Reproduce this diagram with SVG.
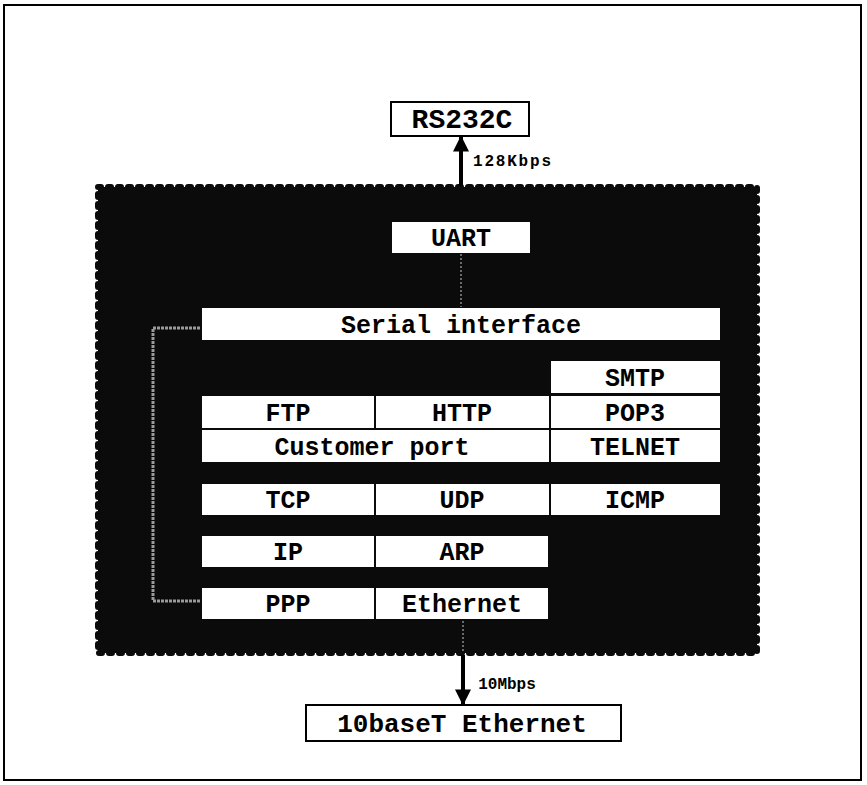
<svg xmlns="http://www.w3.org/2000/svg" width="867" height="785" viewBox="0 0 867 785">
<style>
text{font-family:"Liberation Mono","Courier New",monospace;font-weight:bold;fill:#000;text-anchor:middle}
.lbl{font-size:25px}
.big{font-size:26px}
.sm{font-size:16px}
.cell{fill:#fff;stroke:none}
.ext{fill:#fff;stroke:#000;stroke-width:2}
</style>
<defs>
<marker id="ah" viewBox="0 0 10 10" refX="9" refY="5" markerWidth="4.5" markerHeight="4" orient="auto-start-reverse">
<path d="M0,0 L10,5 L0,10 z" fill="#000"/>
</marker>
</defs>
<rect x="0" y="0" width="867" height="785" fill="#fff"/>
<rect x="4" y="5" width="857" height="775" fill="none" stroke="#000" stroke-width="2"/>

<g id="system">
<rect x="98" y="187" width="659" height="466" fill="#0b0b0b" stroke="#0b0b0b" stroke-width="6" stroke-dasharray="3 7" stroke-linecap="round"/>
</g>

<g id="connectors">
<line x1="461" y1="186" x2="461" y2="137" stroke="#000" stroke-width="4" marker-end="url(#ah)"/>
<line x1="463" y1="655" x2="463" y2="704" stroke="#000" stroke-width="4" marker-end="url(#ah)"/>
<line x1="461" y1="254" x2="461" y2="307" stroke="#6a6a6a" stroke-width="2" stroke-dasharray="2 2"/>
<line x1="463" y1="621" x2="463" y2="653" stroke="#6a6a6a" stroke-width="2" stroke-dasharray="2 2"/>
<path d="M200,328 H153 V601 H200" fill="none" stroke="#9a9a9a" stroke-width="3" stroke-dasharray="3 1"/>
<text class="sm" x="512" y="166" textLength="78">128Kbps</text>
<text class="sm" x="507" y="689">10Mbps</text>
</g>

<g id="rs232c"><rect class="ext" x="391" y="102" width="138" height="34"/><text style="font-size:28px" x="462" y="128">RS232C</text></g>
<g id="ethernet10"><rect class="ext" x="306" y="705" width="315" height="36"/><text class="big" x="462" y="732">10baseT Ethernet</text></g>

<g id="uart"><rect class="cell" x="392" y="222" width="138" height="31"/><text class="lbl" x="461" y="246">UART</text></g>
<g id="serial"><rect class="cell" x="202" y="308" width="518" height="32"/><text class="lbl" x="461" y="333">Serial interface</text></g>
<g id="smtp"><rect class="cell" x="551" y="361" width="169" height="32"/><text class="lbl" x="635" y="386">SMTP</text></g>
<g id="ftp"><rect class="cell" x="202" y="396" width="172" height="32"/><text class="lbl" x="288" y="421">FTP</text></g>
<g id="http"><rect class="cell" x="376" y="396" width="173" height="32"/><text class="lbl" x="462" y="421">HTTP</text></g>
<g id="pop3"><rect class="cell" x="551" y="396" width="169" height="32"/><text class="lbl" x="635" y="421">POP3</text></g>
<g id="customer"><rect class="cell" x="202" y="430" width="347" height="32"/><text class="lbl" x="372" y="455">Customer port</text></g>
<g id="telnet"><rect class="cell" x="551" y="430" width="169" height="32"/><text class="lbl" x="635" y="455">TELNET</text></g>
<g id="tcp"><rect class="cell" x="202" y="484" width="172" height="31"/><text class="lbl" x="288" y="508">TCP</text></g>
<g id="udp"><rect class="cell" x="376" y="484" width="173" height="31"/><text class="lbl" x="462" y="508">UDP</text></g>
<g id="icmp"><rect class="cell" x="551" y="484" width="169" height="31"/><text class="lbl" x="635" y="508">ICMP</text></g>
<g id="ip"><rect class="cell" x="202" y="536" width="172" height="31"/><text class="lbl" x="288" y="560">IP</text></g>
<g id="arp"><rect class="cell" x="376" y="536" width="172" height="31"/><text class="lbl" x="462" y="560">ARP</text></g>
<g id="ppp"><rect class="cell" x="202" y="588" width="172" height="31"/><text class="lbl" x="288" y="612">PPP</text></g>
<g id="eth"><rect class="cell" x="376" y="588" width="172" height="31"/><text class="lbl" x="462" y="612">Ethernet</text></g>
</svg>
